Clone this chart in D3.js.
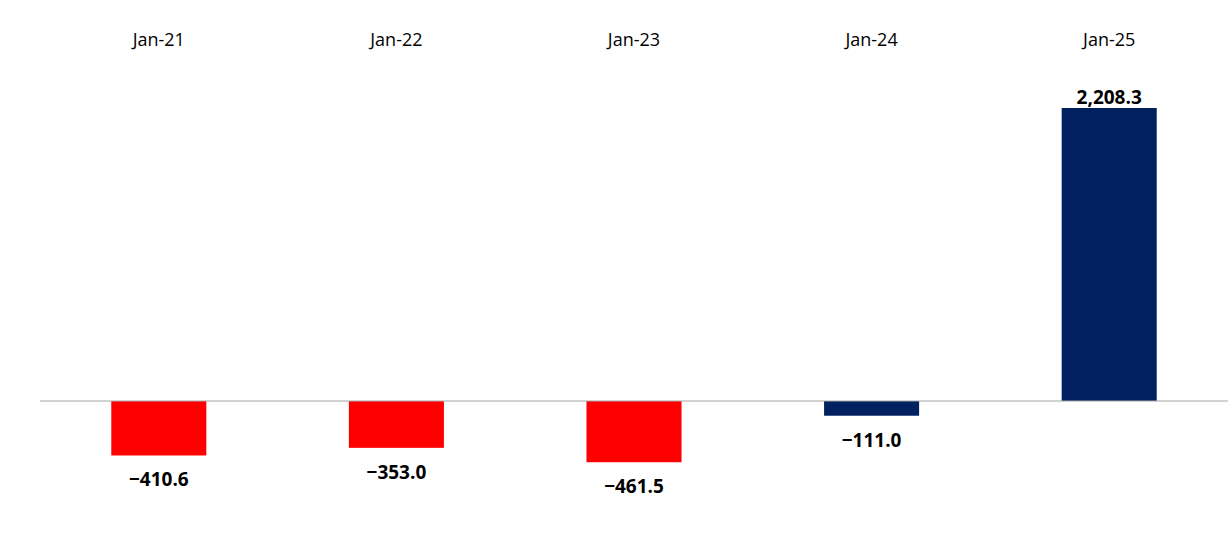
<!DOCTYPE html>
<html><head><meta charset="utf-8">
<script src="https://cdn.jsdelivr.net/npm/d3@7"></script>
<style>body{margin:0;background:#fff}text{font-family:"Open Sans",sans-serif}</style>
</head><body>
<svg id="chart" width="1230" height="533"></svg>
<script>
var categories = ["Jan-21","Jan-22","Jan-23","Jan-24","Jan-25"]
var values = [-410.6, -353.0, -461.5, -111.0, 2208.3]
var barColors = ["#ff0000","#ff0000","#ff0000","#002060","#002060"]

var svg = d3.select("#chart")
var x = d3.scaleBand().domain(categories).range([40, 1228]).paddingInner(0.6).paddingOuter(0.3)
var y = d3.scaleLinear().domain([0, 2208.3]).range([401, 108])
var fmt = d3.format(",.1f")

svg.selectAll("text.cat").data(categories).enter().append("text")
  .attr("class","cat")
  .attr("x", function(d){ return x(d) + x.bandwidth()/2 })
  .attr("y", 46)
  .attr("text-anchor","middle")
  .style("font-size","18px")
  .text(function(d){ return d })

svg.selectAll("rect.bar").data(values).enter().append("rect")
  .attr("x", function(d,i){ return x(categories[i]) })
  .attr("y", function(d){ return Math.min(y(d), y(0)) })
  .attr("width", x.bandwidth())
  .attr("height", function(d){ return Math.abs(y(d) - y(0)) })
  .style("fill", function(d,i){ return barColors[i] })

svg.append("line")
  .attr("x1", 40).attr("x2", 1228)
  .attr("y1", y(0)).attr("y2", y(0))
  .style("stroke","#a6a6a6").style("stroke-width",1)

svg.selectAll("text.val").data(values).enter().append("text")
  .attr("class","val")
  .attr("x", function(d,i){ return x(categories[i]) + x.bandwidth()/2 })
  .attr("y", function(d){ return d < 0 ? y(d) + 31 : y(d) - 4 })
  .attr("text-anchor","middle")
  .style("font-size","19px").style("font-weight","bold")
  .text(function(d){ return fmt(d) })
</script>
</body></html>
